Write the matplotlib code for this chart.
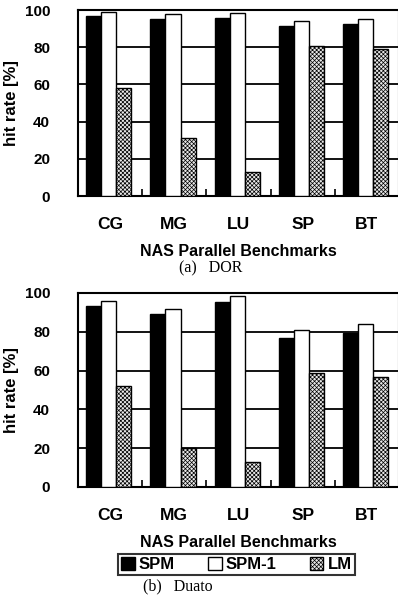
import matplotlib
matplotlib.use("Agg")
import matplotlib.pyplot as plt
import numpy as np
from matplotlib.patches import Patch

categories = ["CG", "MG", "LU", "SP", "BT"]
series = ["SPM", "SPM-1", "LM"]
dor_spm = [97, 95, 95.5, 91.5, 92.5]
dor_spm1 = [99, 98, 98.5, 94, 95]
dor_lm = [58, 31, 13, 80.5, 79]
duato_spm = [93.5, 89, 95.5, 77, 79.5]
duato_spm1 = [96, 92, 98.5, 81, 84]
duato_lm = [52, 20, 13, 59, 56.5]
yticks = [0, 20, 40, 60, 80, 100]

plt.rcParams['font.family'] = ['Liberation Sans', 'DejaVu Sans']
plt.rcParams['hatch.linewidth'] = 0.5
plt.rcParams['hatch.color'] = '#444444'

W, H = 398, 603
fig = plt.figure(figsize=(W / 100, H / 100), dpi=100)

AX_L, AX_R = 78, 399

def px_axes(left, top, right, bottom):
    return fig.add_axes([left / W, 1 - bottom / H, (right - left) / W, (bottom - top) / H])

HATCH = 'xxxxxxxx'
LMCOL = '#e8e8e8'
styles = [dict(color='black', edgecolor='black'),
          dict(color='white', edgecolor='black'),
          dict(color=LMCOL, edgecolor='black', hatch=HATCH)]

def draw(ax, data):
    x = np.arange(len(categories))
    bw = 0.235
    for i, (vals, st) in enumerate(zip(data, styles)):
        ax.bar(x + (i - 1) * bw - 0.02, vals, bw, linewidth=1.0, zorder=3, **st)
    ax.set_xlim(-0.5, len(categories) - 0.5)
    ax.set_ylim(0, 100)
    ax.set_yticks(yticks)
    ax.set_yticklabels([str(t) for t in yticks], fontsize=11, fontweight='bold')
    ax.set_xticks(x)
    ax.set_xticklabels(categories, fontsize=12.5, fontweight='bold')
    ax.set_xticks(np.arange(len(categories) + 1) - 0.5, minor=True)
    ax.tick_params(axis='x', which='major', length=0, pad=15)
    ax.tick_params(axis='x', which='minor', direction='in', length=5, width=1.2)
    ax.tick_params(axis='y', length=0, pad=20)
    ax.yaxis.grid(True, color='black', linewidth=1.3, zorder=1)
    for s in ax.spines.values():
        s.set_linewidth(1.5)
    ax.set_ylabel("hit rate [%]", fontsize=12, fontweight='bold')
    ax.yaxis.set_label_coords((19 - AX_L) / (AX_R - AX_L), 0.5)
    ax.set_xlabel("NAS Parallel Benchmarks", fontsize=11.5, fontweight='bold', labelpad=9)

ax1 = px_axes(AX_L, 10, AX_R, 196)
draw(ax1, [dor_spm, dor_spm1, dor_lm])
ax2 = px_axes(AX_L, 293, AX_R, 487)
draw(ax2, [duato_spm, duato_spm1, duato_lm])

fig.text(211 / W, 1 - 268 / H, "(a)   DOR", ha='center', va='center',
         fontsize=11.5, family=['Liberation Serif', 'DejaVu Serif'])
fig.text(178 / W, 1 - 586 / H, "(b)   Duato", ha='center', va='center',
         fontsize=11.5, family=['Liberation Serif', 'DejaVu Serif'])

handles = [Patch(facecolor='black', edgecolor='black'),
           Patch(facecolor='white', edgecolor='black'),
           Patch(facecolor=LMCOL, edgecolor='black', hatch=HATCH)]
leg = fig.legend(handles, series, loc='center', bbox_to_anchor=(236.5 / W, 1 - 564.5 / H),
                 ncol=3, frameon=True, fancybox=False, edgecolor='black',
                 prop=dict(size=12, weight='bold'), handlelength=0.8, handleheight=0.8,
                 handletextpad=0.25, columnspacing=2.0, borderpad=0.2, borderaxespad=0)
leg.get_frame().set_linewidth(1.5)

fig.savefig("out.png", dpi=100)
